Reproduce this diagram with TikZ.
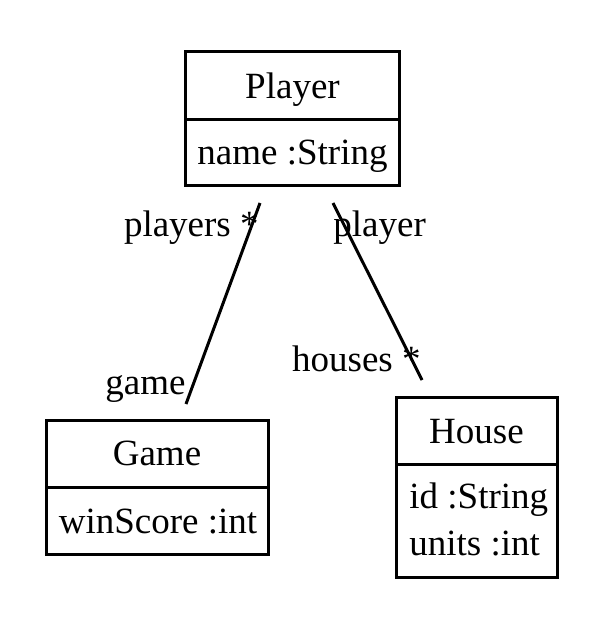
\documentclass[tikz,border=0pt]{standalone}
\usepackage{fontspec}
\setmainfont{Liberation Serif}
\begin{document}
\begin{tikzpicture}[x=0.5pt,y=-0.5pt,
  cls/.style={draw, line width=1.5pt, inner sep=0pt, minimum width=#1},
  txt/.style={inner sep=0pt, font=\fontsize{18.5}{22}\selectfont},
  assoc/.style={line width=1.5pt}]
\useasboundingbox (0,0) rectangle (601,630);
% Player
\node[cls=107pt, minimum height=67pt] (player) at (292.5,119) {};
\draw[line width=1.5pt] (185,120) -- (400,120);
\node[txt, anchor=base] (playerT) at (292.5,99) {Player};
\node[txt, anchor=base] (playerA) at (292.5,165) {name :String};
% Game
\node[cls=111pt, minimum height=67pt] (game) at (157,487) {};
\draw[line width=1.5pt] (46,487) -- (268,487);
\node[txt, anchor=base] (gameT) at (157,465) {Game};
\node[txt, anchor=base] (gameA) at (158,533) {winScore :int};
% House
\node[cls=80.5pt, minimum height=90pt] (house) at (476.5,487) {};
\draw[line width=1.5pt] (396,464) -- (557,464);
\node[txt, anchor=base] (houseT) at (476.5,443) {House};
\node[txt, anchor=base west] (houseA) at (409,508) {id :String};
\node[txt, anchor=base west] (houseB) at (409,555) {units :int};
% connectors
\coordinate (a1) at (260,203);
\coordinate (a2) at (186,404);
\coordinate (b1) at (333,203);
\coordinate (b2) at (422,380);
\draw[assoc] (a1) -- (a2);
\draw[assoc] (b1) -- (b2);
\node[txt, anchor=base east] (l1) at (259,237) {players *};
\node[txt, anchor=base west] (l2) at (333,237) {player};
\node[txt, anchor=base east] (l3) at (421,371) {houses *};
\node[txt, anchor=base east] (l4) at (186,394) {game};
\end{tikzpicture}
\end{document}
